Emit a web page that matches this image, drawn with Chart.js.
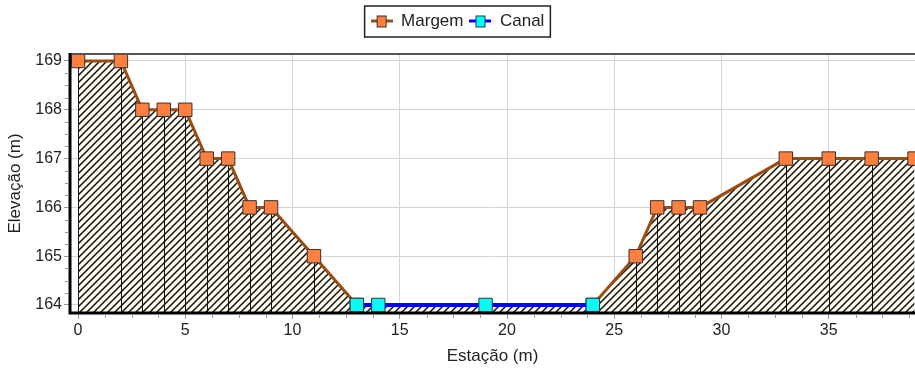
<!DOCTYPE html>
<html lang="pt">
<head>
  <meta charset="UTF-8">
  <title>Seção transversal</title>
  <script src="https://cdn.jsdelivr.net/npm/chart.js"></script>
  <style>
    html, body { margin: 0; padding: 0; background: #fff; }
    canvas { display: block; }
  </style>
</head>
<body>
  <canvas id="chart" width="915" height="371"></canvas>

  <script>
    // dados da seção
    const margemEstacao = [0, 2, 3, 4, 5, 6, 7, 8, 9, 11, 13, 24, 26, 27, 28, 29, 33, 35, 37, 39];
    const margemElevacao = [169, 169, 168, 168, 168, 167, 167, 166, 166, 165, 164, 164, 165, 166, 166, 166, 167, 167, 167, 167];
    const canalEstacao = [13, 14, 19, 24];
    const canalElevacao = [164, 164, 164, 164];
    const seriesNames = ['Margem', 'Canal'];

    const margemPts = margemEstacao.map((x, i) => ({ x, y: margemElevacao[i] }));
    const canalPts = canalEstacao.map((x, i) => ({ x, y: canalElevacao[i] }));

    // terreno = margem + canal, ordenado por estação
    const terreno = [];
    margemPts.concat(canalPts).forEach(p => {
      if (!terreno.some(q => q.x === p.x)) terreno.push(p);
    });
    terreno.sort((a, b) => a.x - b.x);

    function hatchPattern() {
      const n = 7;
      const c = document.createElement('canvas');
      c.width = n; c.height = n;
      const g = c.getContext('2d');
      g.fillStyle = '#fdfbee';
      g.fillRect(0, 0, n, n);
      g.strokeStyle = '#111';
      g.lineWidth = 1.5;
      g.beginPath();
      g.moveTo(-1, n + 1); g.lineTo(n + 1, -1);
      g.moveTo(-1, 1); g.lineTo(1, -1);
      g.moveTo(n - 1, n + 1); g.lineTo(n + 1, n - 1);
      g.stroke();
      return document.getElementById('chart').getContext('2d').createPattern(c, 'repeat');
    }

    function legendIcon(lineColor, fill) {
      const c = document.createElement('canvas');
      c.width = 22; c.height = 14;
      const g = c.getContext('2d');
      g.fillStyle = lineColor;
      g.fillRect(0, 5, 22, 3);
      g.fillStyle = fill;
      g.strokeStyle = '#333';
      g.lineWidth = 1;
      g.fillRect(6, 1.5, 10, 11);
      g.strokeRect(6.5, 1.5, 9, 11);
      return c;
    }
    const icons = [legendIcon('#9a4d12', '#ff7f3f'), legendIcon('#0000ff', '#00ffff')];

    const extras = {
      id: 'extras',
      afterDatasetDraw(chart, args) {
        if (args.index !== 0) return;
        const ctx = chart.ctx, x = chart.scales.x, y = chart.scales.y;
        ctx.save();
        ctx.strokeStyle = '#111';
        ctx.lineWidth = 1;
        terreno.forEach(p => {
          const px = Math.round(x.getPixelForValue(p.x)) + 0.5;
          ctx.beginPath();
          ctx.moveTo(px, y.getPixelForValue(p.y));
          ctx.lineTo(px, chart.chartArea.bottom);
          ctx.stroke();
        });
        ctx.restore();
      },
      afterDraw(chart) {
        const ctx = chart.ctx, a = chart.chartArea, x = chart.scales.x, y = chart.scales.y;
        ctx.save();
        // moldura
        ctx.strokeStyle = '#555';
        ctx.lineWidth = 2;
        ctx.beginPath();
        ctx.moveTo(a.left, a.top); ctx.lineTo(a.right, a.top);
        ctx.stroke();
        ctx.strokeStyle = '#000';
        ctx.lineWidth = 3;
        ctx.beginPath();
        ctx.moveTo(a.left, a.top - 1); ctx.lineTo(a.left, a.bottom); ctx.lineTo(a.right, a.bottom);
        ctx.stroke();
        // marcas menores
        ctx.strokeStyle = '#999';
        ctx.lineWidth = 1;
        ctx.beginPath();
        for (let v = 0; v <= 40; v += 1.25) {
          if (v % 5 === 0) continue;
          const px = Math.round(x.getPixelForValue(v)) + 0.5;
          if (px > a.right) break;
          ctx.moveTo(px, a.bottom + 1); ctx.lineTo(px, a.bottom + 5);
        }
        for (let v = 164; v < 169.2; v += 0.25) {
          if (v % 1 === 0) continue;
          const py = Math.round(y.getPixelForValue(v)) + 0.5;
          if (py < a.top) break;
          ctx.moveTo(a.left - 5, py); ctx.lineTo(a.left - 1, py);
        }
        ctx.stroke();
        // caixa da legenda
        const boxes = chart.legend.legendHitBoxes;
        if (boxes && boxes.length) {
          const l = Math.min(...boxes.map(b => b.left)) - 6;
          const r = Math.max(...boxes.map(b => b.left + b.width)) + 6;
          const t = Math.min(...boxes.map(b => b.top)) - 7;
          const btm = Math.max(...boxes.map(b => b.top + b.height)) + 7;
          ctx.strokeStyle = '#222';
          ctx.lineWidth = 1.5;
          ctx.strokeRect(l, t, r - l, btm - t);
        }
        ctx.restore();
      }
    };

    const tickFont = { family: 'Liberation Sans, Arial, sans-serif', size: 16 };
    const titleFont = { family: 'Liberation Sans, Arial, sans-serif', size: 17 };

    new Chart(document.getElementById('chart'), {
      type: 'scatter',
      data: {
        datasets: [
          {
            label: 'terreno',
            data: terreno,
            showLine: true,
            borderWidth: 0,
            pointRadius: 0,
            backgroundColor: hatchPattern(),
            fill: 'start',
            order: 3
          },
          {
            label: seriesNames[0],
            data: margemPts,
            showLine: true,
            borderColor: '#9a4d12',
            borderWidth: 3,
            pointStyle: 'rect',
            pointRadius: 9.5,
            pointBackgroundColor: '#ff7f3f',
            pointBorderColor: '#333',
            pointBorderWidth: 1,
            order: 2
          },
          {
            label: seriesNames[1],
            data: canalPts,
            showLine: true,
            borderColor: '#0000ff',
            borderWidth: 4,
            pointStyle: 'rect',
            pointRadius: 9.5,
            pointBackgroundColor: '#00ffff',
            pointBorderColor: '#333',
            pointBorderWidth: 1,
            order: 1
          }
        ]
      },
      options: {
        responsive: false,
        animation: false,
        layout: { autoPadding: false, padding: { top: 7, right: 0, left: 0, bottom: 0 } },
        plugins: {
          tooltip: { enabled: false },
          legend: {
            labels: {
              filter: item => item.text !== 'terreno',
              sort: (a, b) => a.datasetIndex - b.datasetIndex,
              usePointStyle: true,
              pointStyleWidth: 22,
              boxHeight: 14,
              padding: 6,
              color: '#222',
              font: { family: 'Liberation Sans, Arial, sans-serif', size: 17 },
              generateLabels(chart) {
                const items = Chart.defaults.plugins.legend.labels.generateLabels(chart);
                return items.map(it => Object.assign(it, { pointStyle: icons[it.datasetIndex - 1] || it.pointStyle }));
              }
            }
          }
        },
        scales: {
          x: {
            type: 'linear',
            min: -0.373,
            max: 39.02,
            afterFit(s) { s.height = 58; },
            border: { display: false },
            grid: { color: '#d4d4d4', lineWidth: 1, tickLength: 6, tickColor: '#999' },
            ticks: { stepSize: 5, includeBounds: false, color: '#222', font: tickFont, padding: 2, maxRotation: 0 },
            title: { display: true, text: 'Estação (m)', color: '#222', font: titleFont, padding: { top: 0 } }
          },
          // espaço entre a legenda e o gráfico
          gap: {
            type: 'linear',
            position: 'top',
            afterFit(s) { s.height = 14; },
            border: { display: false },
            grid: { display: false },
            ticks: { display: false }
          },
          y: {
            min: 163.836,
            max: 169.143,
            afterFit(s) { s.width = 70; },
            border: { display: false },
            grid: { color: '#d4d4d4', lineWidth: 1, tickLength: 6, tickColor: '#999' },
            ticks: { stepSize: 1, includeBounds: false, color: '#222', font: tickFont, padding: 2 },
            title: { display: true, text: 'Elevação (m)', color: '#222', font: titleFont, padding: { top: 5, bottom: 8 } }
          }
        }
      },
      plugins: [extras]
    });
  </script>
</body>
</html>
